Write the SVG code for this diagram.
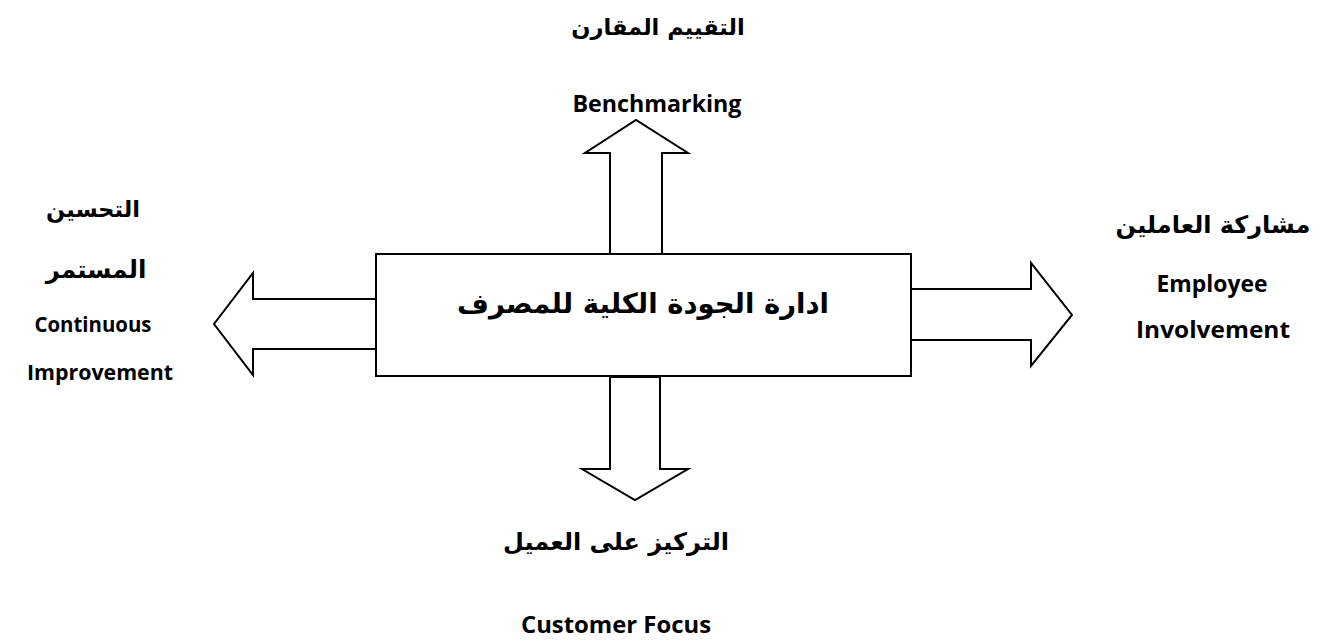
<svg xmlns="http://www.w3.org/2000/svg" width="1322" height="641" viewBox="0 0 1322 641">
<style>
.shape{fill:#fff;stroke:#000;stroke-width:2;stroke-linejoin:miter}
.ar{font-family:"DejaVu Sans","Noto Sans",sans-serif;font-weight:bold;fill:#000;text-anchor:middle;direction:rtl}
.en{font-family:"Open Sans","Liberation Sans",sans-serif;font-weight:bold;fill:#000;text-anchor:middle;font-size:23px}
</style>
<rect width="1322" height="641" fill="#fff"/>
<g id="connectors">
<polygon class="shape" points="610,254 610,153 585,153 636,120 688,153 662,153 662,254"/>
<polygon class="shape" points="376,299 253,299 253,273 214,324 253,375 253,349 376,349"/>
<polygon class="shape" points="911,289 1031,289 1031,263 1072,315 1031,366 1031,340 911,340"/>
<polygon class="shape" points="610,377 610,469 582,469 635,500 688,469 660,469 660,377"/>
</g>
<g id="center">
<rect class="shape" x="376" y="254" width="535" height="122"/>
<text class="ar" x="643" y="313" font-size="27.5">ادارة الجودة الكلية للمصرف</text>
</g>
<g id="benchmarking">
<text class="ar" x="658" y="35" font-size="22.5">التقييم المقارن</text>
<text class="en" x="657" y="112" textLength="169" lengthAdjust="spacingAndGlyphs">Benchmarking</text>
</g>
<g id="continuous">
<text class="ar" x="93" y="217" font-size="22.5">التحسين</text>
<text class="ar" x="96" y="278" font-size="24.5">المستمر</text>
<text class="en" x="93" y="332" font-size="21.5" style="font-size:21.5px" textLength="117" lengthAdjust="spacingAndGlyphs">Continuous</text>
<text class="en" x="100" y="380" style="font-size:22px" textLength="146" lengthAdjust="spacingAndGlyphs">Improvement</text>
</g>
<g id="employee">
<text class="ar" x="1213" y="233" font-size="24">مشاركة العاملين</text>
<text class="en" x="1212" y="292" textLength="111" lengthAdjust="spacingAndGlyphs">Employee</text>
<text class="en" x="1213" y="338" textLength="154" lengthAdjust="spacingAndGlyphs">Involvement</text>
</g>
<g id="customer">
<text class="ar" x="616" y="550" font-size="24">التركيز على العميل</text>
<text class="en" x="616" y="633" textLength="190" lengthAdjust="spacingAndGlyphs">Customer Focus</text>
</g>
</svg>
